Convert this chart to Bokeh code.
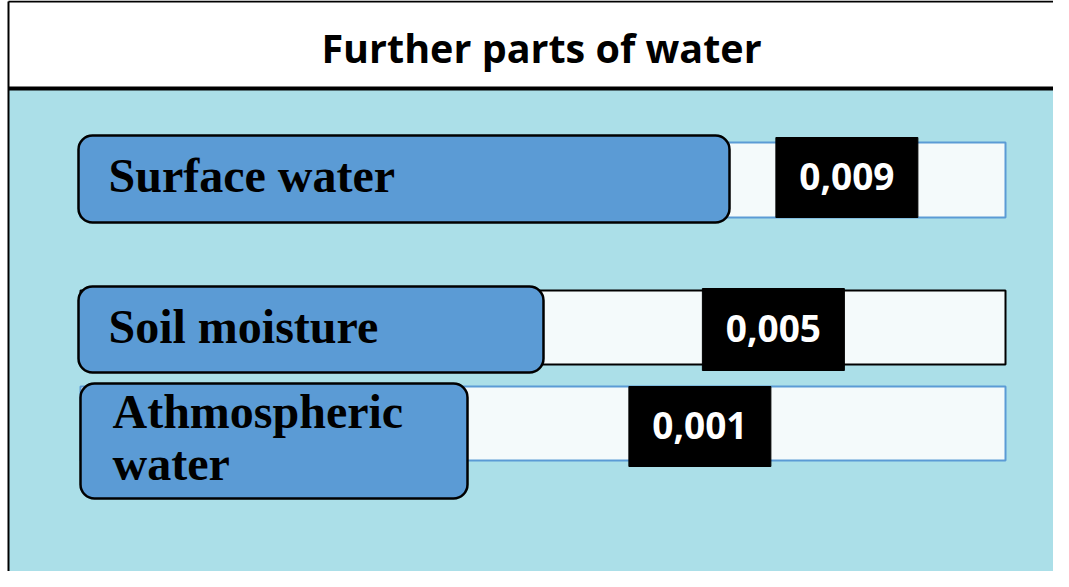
from bokeh.plotting import figure
from bokeh.models import Range1d, ColumnDataSource
from bokeh.core.properties import value
from bokeh.embed import file_html
from bokeh.resources import INLINE

# ---- data ----
title_text = "Further parts of water"
categories = ["Surface water", "Soil moisture", "Athmospheric\nwater"]
values = [0.009, 0.005, 0.001]
value_labels = ["0,009", "0,005", "0,001"]

# ---- layout (pixels) ----
W, H = 1053, 571
# value axis: pixel = ORIGIN_PX + value * PX_PER_UNIT
ORIGIN_PX = 681.0
PX_PER_UNIT = 18375.0


def px2v(px):
    return (px - ORIGIN_PX) / PX_PER_UNIT


row_track = [(142, 217), (290, 364), (386, 460)]
track_line = ["#5b9bd5", "#000000", "#5b9bd5"]
label_box = [(78, 729, 135, 222), (78, 543, 286, 372), (80, 467, 383, 498)]
black_box_tb = [(137, 217), (288, 370), (386, 466)]
label_x = [108, 108, 112]
BOX_W_PX = 142
FRAME_L, FRAME_T = 8, 1

p = figure(width=W, height=H, output_backend="svg", toolbar_location=None,
           x_range=Range1d(px2v(0), px2v(W)), y_range=Range1d(H, 0),
           x_axis_location=None, y_axis_location=None, min_border=0,
           background_fill_color="white", border_fill_color="white",
           outline_line_color=None)
p.grid.visible = False

# water background area
p.quad(left=[px2v(FRAME_L)], right=[px2v(W)], top=[88], bottom=[H],
       fill_color="#abdfe8", line_color=None)
# frame lines
p.line(x=[px2v(FRAME_L), px2v(W)], y=[FRAME_T, FRAME_T], line_color="black", line_width=2)
p.line(x=[px2v(FRAME_L), px2v(FRAME_L)], y=[FRAME_T, H], line_color="black", line_width=2)
p.line(x=[px2v(FRAME_L), px2v(W)], y=[88, 88], line_color="black", line_width=4)
p.text(x=[px2v(541)], y=[47], text=[title_text], text_align="center",
       text_baseline="middle", text_font=value("Open Sans"),
       text_font_style="bold", text_font_size="39.5px", text_color="black")

# tracks
p.quad(left=[px2v(80)] * 3, right=[px2v(1005)] * 3,
       top=[t for t, b in row_track], bottom=[b for t, b in row_track],
       fill_color="#f4fafb", line_color=track_line, line_width=2)

# black value boxes (positioned by value)
vsrc = ColumnDataSource(dict(
    x=values, top=[t for t, b in black_box_tb], bottom=[b for t, b in black_box_tb],
    ty=[(t + b) / 2 - 1 for t, b in black_box_tb], lab=value_labels))
half = BOX_W_PX / PX_PER_UNIT / 2
vsrc.data["left"] = [v - half for v in values]
vsrc.data["right"] = [v + half for v in values]
p.quad(left="left", right="right", top="top", bottom="bottom", source=vsrc,
       fill_color="black", line_color="black")
p.text(x="x", y="ty", text="lab", source=vsrc, text_align="center",
       text_baseline="middle", text_font=value("Open Sans"),
       text_font_style="bold", text_font_size="37px", text_color="white")

# blue label boxes
p.quad(left=[px2v(l) for l, r, t, b in label_box],
       right=[px2v(r) for l, r, t, b in label_box],
       top=[t for l, r, t, b in label_box], bottom=[b for l, r, t, b in label_box],
       fill_color="#5b9bd5", line_color="black", line_width=2.5,
       border_radius=14)
p.text(x=[px2v(x) for x in label_x],
       y=[(t + b) / 2 - 3.5 for l, r, t, b in label_box], text=categories,
       text_align="left", text_baseline="middle",
       text_font=value("Liberation Serif"), text_font_style="bold",
       text_font_size="48px", text_color="black", text_line_height=0.97)

open("out.html", "w").write(file_html(p, INLINE))
